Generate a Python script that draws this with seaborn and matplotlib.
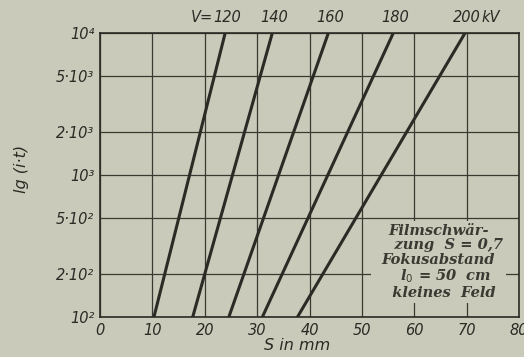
import matplotlib
matplotlib.use("Agg")
import matplotlib.pyplot as plt
import seaborn as sns
import pandas as pd
import numpy as np

# Data: S (mm) where each kV line crosses i*t = 1e2 and 1e4
voltages = ["120", "140", "160", "180", "200"]
it_values = [1e2, 1e4]
s_at_low = [10.3, 17.7, 24.6, 31.0, 37.7]
s_at_high = [23.9, 32.9, 43.6, 56.0, 69.7]

y_ticks = [1e2, 2e2, 5e2, 1e3, 2e3, 5e3, 1e4]
y_ticklabels = ["10²", "2·10²", "5·10²", "10³", "2·10³", "5·10³", "10⁴"]
x_ticks = [0, 10, 20, 30, 40, 50, 60, 70, 80]

rows = []
for v, lo, hi in zip(voltages, s_at_low, s_at_high):
    rows.append({"V": v, "S": lo, "it": it_values[0]})
    rows.append({"V": v, "S": hi, "it": it_values[1]})
df = pd.DataFrame(rows)

bg = "#c9cab9"
ink = "#2b2b26"

sns.set_theme(style="white")
plt.rcParams["font.family"] = ["DejaVu Sans"]

fig = plt.figure(figsize=(5.24, 3.57), dpi=100, facecolor=bg)
ax = fig.add_axes([100/524, 1-317/357, 419/524, 284/357])
ax.set_facecolor(bg)

sns.lineplot(data=df, x="S", y="it", hue="V", palette=[ink]*5,
             legend=False, ax=ax, linewidth=2.2, sort=False)

ax.set_yscale("log")
ax.set_xlim(0, 80)
ax.set_ylim(1e2, 1e4)
ax.set_xticks(x_ticks)
ax.set_xticklabels([str(t) for t in x_ticks], fontstyle="italic", fontsize=10.5, color=ink)
ax.set_yticks(y_ticks)
ax.set_yticklabels(y_ticklabels, fontstyle="italic", fontsize=10.5, color=ink)
ax.yaxis.set_minor_locator(matplotlib.ticker.NullLocator())
ax.tick_params(axis="both", length=0, pad=4)

ax.grid(True, which="major", color="#3a3a33", linewidth=0.9)
for sp in ax.spines.values():
    sp.set_color(ink)
    sp.set_linewidth(1.2)

ax.set_xlabel("S in mm", fontstyle="italic", fontsize=11.5, color=ink, labelpad=2)
ax.xaxis.set_label_coords(0.47, -0.075)
ax.set_ylabel("lg (i·t)", fontstyle="italic", fontsize=11.5, color=ink, rotation=90, labelpad=8)
ax.yaxis.set_label_coords(-0.17, 0.52)

# labels above line tops
for v, hi in zip(voltages, s_at_high):
    ax.text(hi + 0.4, 1.14e4, v, ha="center", va="bottom", fontstyle="italic",
            fontsize=10.5, color=ink, clip_on=False)
ax.text(s_at_high[0] - 2.3, 1.14e4, "V=", ha="right", va="bottom", fontstyle="italic",
        fontsize=10.5, color=ink, clip_on=False)
ax.text(s_at_high[-1] + 3.2, 1.14e4, "kV", ha="left", va="bottom", fontstyle="italic",
        fontsize=10.5, color=ink, clip_on=False)

ax.text(64.6, 2.45e2,
        "Filmschwär-\n    zung  S = 0,7\nFokusabstand\n   l$_0$ = 50  cm\n  kleines  Feld",
        ha="center", va="center", fontsize=10.5, fontweight="bold", fontstyle="italic",
        family="DejaVu Serif", color="#3a3a33", linespacing=1.05,
        bbox=dict(facecolor=bg, edgecolor="none", pad=2), zorder=5)

fig.savefig("out.png", dpi=100, facecolor=bg)
